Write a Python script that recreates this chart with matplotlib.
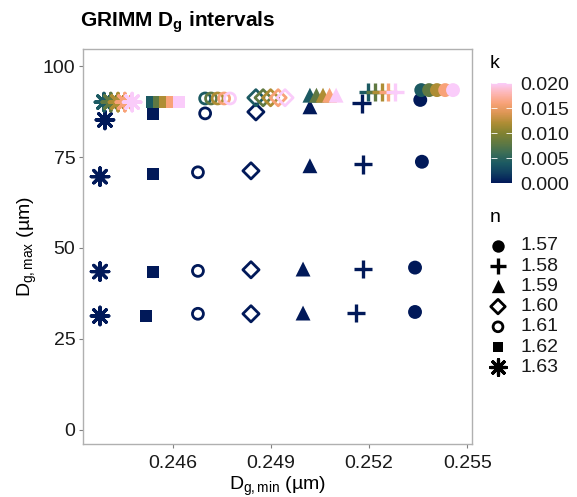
import numpy as np
import matplotlib
matplotlib.use("Agg")
import matplotlib.pyplot as plt
from matplotlib.colors import LinearSegmentedColormap, Normalize
from matplotlib.cm import ScalarMappable

plt.rcParams['font.family'] = ['Liberation Sans', 'DejaVu Sans']
plt.rcParams['mathtext.fontset'] = 'custom'
plt.rcParams['mathtext.rm'] = 'Liberation Sans'
plt.rcParams['mathtext.it'] = 'Liberation Sans:italic'
plt.rcParams['mathtext.bf'] = 'Liberation Sans:bold'

# ---------------- data ----------------
n_levels = [1.57, 1.58, 1.59, 1.60, 1.61, 1.62, 1.63]
k_levels = [0.0, 0.004, 0.008, 0.012, 0.016, 0.020]

# three lower rows (k = 0), ordered like n_levels
row1_dmin = [0.25340, 0.25160, 0.24998, 0.24839, 0.24677, 0.24518, 0.24378]
row1_dmax = [32.4, 32.1, 32.1, 31.9, 31.9, 31.3, 31.3]
row2_dmin = [0.25340, 0.25181, 0.24998, 0.24839, 0.24677, 0.24539, 0.24378]
row2_dmax = [44.6, 44.2, 44.2, 44.0, 43.7, 43.5, 43.5]
row3_dmin = [0.25361, 0.25181, 0.25019, 0.24839, 0.24677, 0.24539, 0.24378]
row3_dmax = [73.7, 73.0, 72.6, 71.2, 70.8, 70.3, 69.6]

# top cluster: one list per n, one value per k level
top_dmin = [
    [0.25356, 0.25359, 0.25383, 0.25407, 0.25432, 0.25456],
    [0.25177, 0.25197, 0.25218, 0.25238, 0.25258, 0.25279],
    [0.25019, 0.25019, 0.25039, 0.25059, 0.25079, 0.25099],
    [0.24854, 0.24854, 0.24876, 0.24899, 0.24922, 0.24943],
    [0.24699, 0.24699, 0.24717, 0.24737, 0.24757, 0.24775],
    [0.24539, 0.24537, 0.24558, 0.24578, 0.24598, 0.24619],
    [0.24393, 0.24390, 0.24411, 0.24433, 0.24454, 0.24476],
]
top_dmax = [
    [90.7, 93.4, 93.4, 93.4, 93.4, 93.4],
    [89.8, 92.9, 92.9, 92.9, 92.9, 92.9],
    [88.8, 92.0, 92.0, 92.0, 92.0, 92.0],
    [87.4, 91.3, 91.3, 91.3, 91.3, 91.3],
    [87.0, 91.1, 91.1, 91.1, 91.1, 91.1],
    [86.8, 90.1, 90.1, 90.1, 90.1, 90.1],
    [85.2, 90.1, 90.1, 90.1, 90.1, 90.1],
]

x_ticks = [0.246, 0.249, 0.252, 0.255]
y_ticks = [0, 25, 50, 75, 100]
cb_ticks = [0.000, 0.005, 0.010, 0.015, 0.020]

# ---------------- styles ----------------
batlow = LinearSegmentedColormap.from_list("batlow", [
    (0.00, "#011959"), (0.10, "#103F60"), (0.20, "#1C5A62"), (0.30, "#3C6D56"),
    (0.40, "#607942"), (0.50, "#828231"), (0.60, "#AE8D34"), (0.70, "#DC9654"),
    (0.80, "#F8A278"), (0.90, "#FDB6B4"), (1.00, "#FACCFA")])
norm = Normalize(vmin=0.0, vmax=0.02)

marker_style = {
    1.57: dict(marker='o', s=100, filled=True, lw=0),
    1.58: dict(marker='+', s=180, filled=False, lw=2.4),
    1.59: dict(marker='^', s=115, filled=True, lw=0),
    1.60: dict(marker='D', s=68, filled=False, lw=2.0),
    1.61: dict(marker='o', s=62, filled=False, lw=2.0),
    1.62: dict(marker='s', s=76, filled=True, lw=0),
    1.63: dict(marker=(8, 2, 0), s=160, filled=False, lw=2.3),
}

W, H = 577, 497
fig = plt.figure(figsize=(W / 100, H / 100), dpi=100)
ax = fig.add_axes([83 / W, 1 - 444 / H, (472 - 83) / W, (444 - 49) / H])

def draw(ax, xs, ys, ks, n):
    st = marker_style[n]
    cols = batlow(norm(np.asarray(ks)))
    if st['marker'] in ('+',) or isinstance(st['marker'], tuple):
        ax.scatter(xs, ys, marker=st['marker'], s=st['s'], c=cols,
                   linewidths=st['lw'], zorder=3)
    elif st['filled']:
        ax.scatter(xs, ys, marker=st['marker'], s=st['s'], c=cols,
                   linewidths=0, zorder=3)
    else:
        ax.scatter(xs, ys, marker=st['marker'], s=st['s'], facecolors='none',
                   edgecolors=cols, linewidths=st['lw'], zorder=3)

for i, n in enumerate(n_levels):
    xs = [row1_dmin[i], row2_dmin[i], row3_dmin[i]] + top_dmin[i]
    ys = [row1_dmax[i], row2_dmax[i], row3_dmax[i]] + top_dmax[i]
    ks = [0.0, 0.0, 0.0] + k_levels
    draw(ax, xs, ys, ks, n)

ax.set_xlim(0.24326, 0.25514)
ax.set_ylim(-3.9, 104.7)
ax.set_xticks(x_ticks)
ax.set_xticklabels([f"{v:.3f}" for v in x_ticks])
ax.set_yticks(y_ticks)
ax.set_yticklabels([str(v) for v in y_ticks])
for sp in ax.spines.values():
    sp.set_color('#b0b0b0')
    sp.set_linewidth(1.0)
ax.tick_params(axis='both', length=3, width=0.8, color='#808080',
               labelsize=14, labelcolor='#1a1a1a')
ax.tick_params(axis='x', pad=5)
ax.tick_params(axis='y', pad=2.5)
ax.set_xlabel("D$_{\\mathrm{g,min}}$ (µm)", fontsize=14, labelpad=2)
ax.set_ylabel("D$_{\\mathrm{g,max}}$ (µm)", fontsize=14, labelpad=3)

fig.text(80 / W, 1 - 22 / H, r"GRIMM D$_{\mathbf{g}}$ intervals", fontsize=15,
         fontweight='bold', ha='left', va='center')

# ---------------- colorbar ----------------
cax = fig.add_axes([491 / W, 1 - 183 / H, 21 / W, 100 / H])
sm = ScalarMappable(norm=norm, cmap=batlow)
cb = fig.colorbar(sm, cax=cax, ticks=cb_ticks)
cb.outline.set_visible(False)
cb.ax.set_yticklabels([f"{v:.3f}" for v in cb_ticks])
cax.tick_params(axis='y', direction='in', color='white', length=4, width=0.6,
                left=True, right=True, labelleft=False, labelright=True,
                labelsize=14, pad=6, labelcolor='#1a1a1a')
fig.text(490 / W, 1 - 64 / H, "k", fontsize=14, ha='left', va='center')

# ---------------- shape legend ----------------
lax = fig.add_axes([0, 0, 1, 1], facecolor='none')
lax.set_xlim(0, W)
lax.set_ylim(H, 0)
lax.axis('off')
fig.text(490 / W, 1 - 217 / H, "n", fontsize=14, ha='left', va='center')
leg_scale = 0.8
for j, n in enumerate(n_levels):
    yy = 246 + j * 20.2
    st = marker_style[n]
    if st['marker'] in ('+',) or isinstance(st['marker'], tuple) or st['filled']:
        lax.scatter([498], [yy], marker=st['marker'], s=st['s'] * leg_scale,
                    c='black', linewidths=st['lw'])
    else:
        lax.scatter([498], [yy], marker=st['marker'], s=st['s'] * leg_scale,
                    facecolors='none', edgecolors='black', linewidths=st['lw'])
    lax.text(520, yy, f"{n:.2f}", fontsize=14, ha='left', va='center',
             color='#1a1a1a')

fig.savefig("out.png", dpi=100)
